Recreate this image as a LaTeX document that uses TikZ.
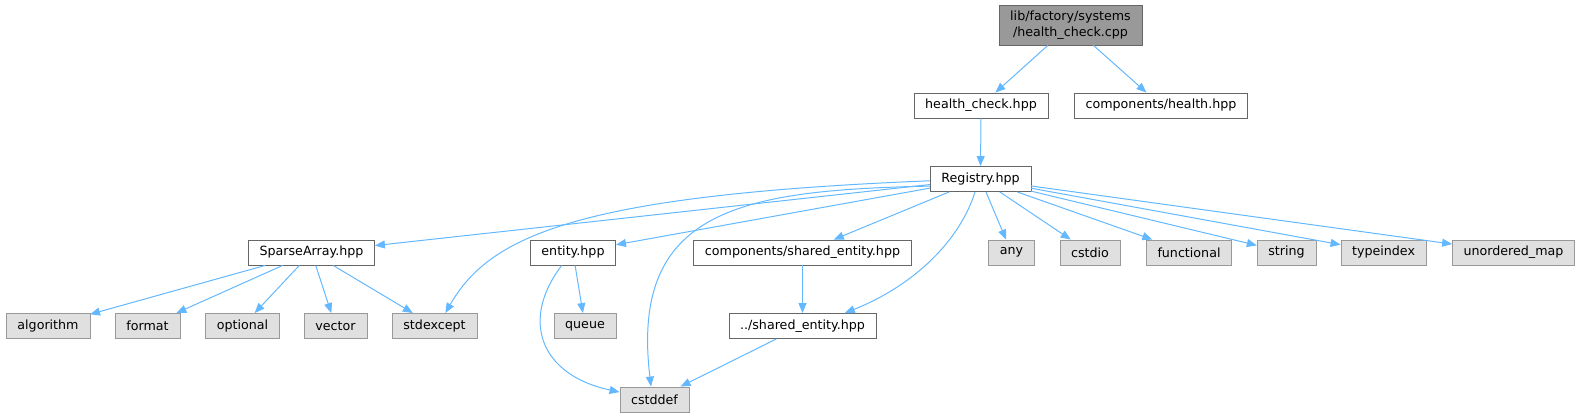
\documentclass[tikz,border=0pt]{standalone}
\usepackage{fontspec}
\setmainfont{DejaVu Sans}
\usepackage{xcolor}
\usepackage{tikz}
\usetikzlibrary{arrows.meta, positioning, calc}
\definecolor{edgeblue}{HTML}{63B8FF}

\begin{document}
\begin{tikzpicture}[
  x=0.75pt, y=-0.75pt,
  file/.style = {draw=black!60, fill=white, minimum height=19pt,
                 inner xsep=8.4pt, inner ysep=0pt,
                 font=\fontsize{9.5}{12}\selectfont},
  sys/.style  = {file, draw=black!40, fill=black!12},
  root/.style = {file, fill=black!40, align=center, minimum height=30pt},
  dep/.style  = {-{Triangle[length=7.5pt, width=6pt]}, edgeblue, line width=0.75pt},
]
\useasboundingbox (0,0) rectangle (1581,417);

% ── Top of the include graph ──────────────────────────────────────────────────
\node[root] (root)    at (1070.5,25)  {lib/factory/systems\\/health\_check.cpp};
\node[file] (hc)      at (981,105.5)  {health\_check.hpp};
\node[file] (chealth) at (1161,105.5) {components/health.hpp};
\node[file] (reg)     at (980.5,179)  {Registry.hpp};

% ── Headers pulled in by Registry.hpp ─────────────────────────────────────────
\node[file] (sparse)  at (311.5,252.5) {SparseArray.hpp};
\node[file] (entity)  at (573,252.5)   {entity.hpp};
\node[file] (cshared) at (802.5,252.5) {components/shared\_entity.hpp};
\node[sys]  (any)     at (1011.5,252.5){any};
\node[sys]  (cstdio)  at (1090,252.5)  {cstdio};
\node[sys]  (func)    at (1189,252.5)  {functional};
\node[sys]  (string)  at (1286.5,252.5){string};
\node[sys]  (typeidx) at (1383.5,252.5){typeindex};
\node[sys]  (umap)    at (1513.5,252.5){unordered\_map};

% ── Lower row ─────────────────────────────────────────────────────────────────
\node[sys]  (algo)    at (48,326)    {algorithm};
\node[sys]  (format)  at (147.5,326) {format};
\node[sys]  (opt)     at (242.5,326) {optional};
\node[sys]  (vector)  at (335.5,326) {vector};
\node[sys]  (stdexc)  at (434.5,326) {stdexcept};
\node[sys]  (queue)   at (585,326)   {queue};
\node[file] (shared)  at (802.5,326) {../shared\_entity.hpp};
\node[sys]  (cstddef) at (654.5,399.5) {cstddef};

% ── Top edges ─────────────────────────────────────────────────────────────────
\draw[dep] (root) -- (hc);
\draw[dep] (root) -- (chealth);
\draw[dep] (hc) -- (reg);

% ── Registry.hpp edges ────────────────────────────────────────────────────────
\draw[dep] (reg) -- (sparse);
\draw[dep] (reg.182) .. controls (580,195) and (490,235) .. (stdexc.50);
\draw[dep] (reg) -- (entity);
\draw[dep] (reg.188) .. controls (740,190) and (630,210) .. (cstddef.105);
\draw[dep] (reg) -- (cshared);
\draw[dep] (reg.247) .. controls (960,240) and (915,285) .. (shared.17);
\draw[dep] (reg) -- (any);
\draw[dep] (reg) -- (cstdio);
\draw[dep] (reg) -- (func);
\draw[dep] (reg) -- (string);
\draw[dep] (reg) -- (typeidx);
\draw[dep] (reg) -- (umap);

% ── SparseArray.hpp edges ─────────────────────────────────────────────────────
\draw[dep] (sparse) -- (algo);
\draw[dep] (sparse) -- (format);
\draw[dep] (sparse) -- (opt);
\draw[dep] (sparse) -- (vector);
\draw[dep] (sparse) -- (stdexc);

% ── entity / shared_entity edges ──────────────────────────────────────────────
\draw[dep] (entity) -- (queue);
\draw[dep] (entity.229) .. controls (520,320) and (540,375) .. (cstddef.168);
\draw[dep] (cshared) -- (shared);
\draw[dep] (shared) -- (cstddef);

\end{tikzpicture}
\end{document}
